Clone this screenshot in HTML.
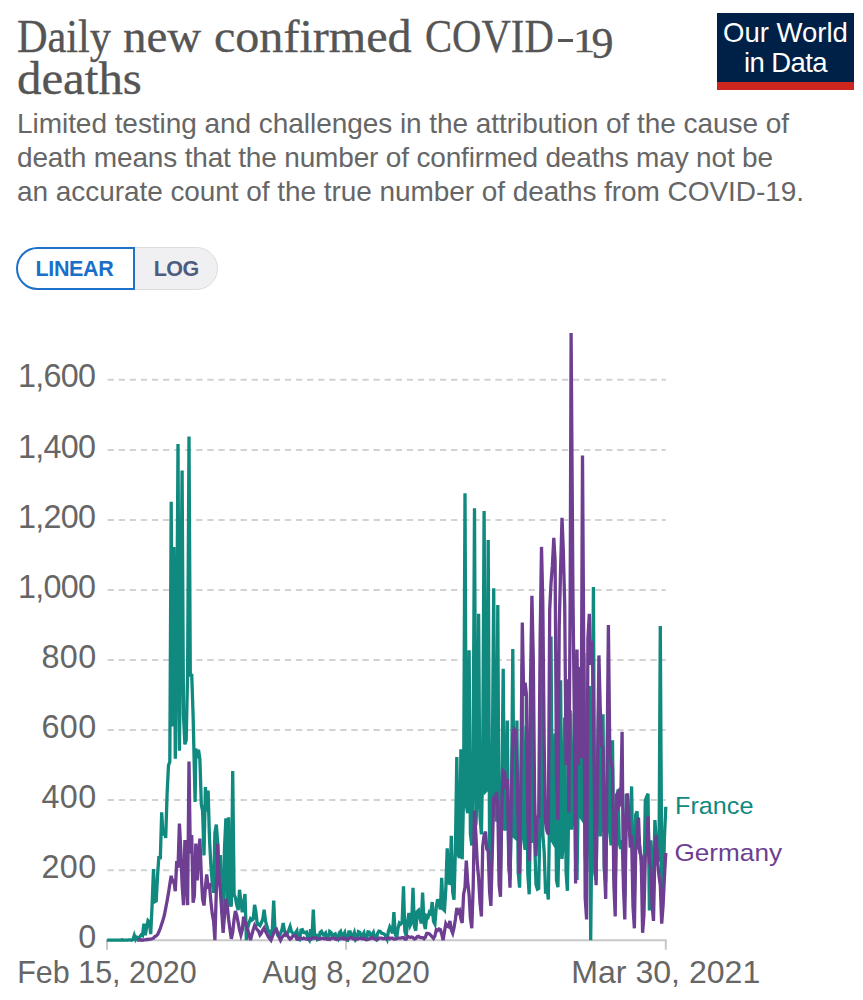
<!DOCTYPE html>
<html><head><meta charset="utf-8">
<style>
html,body{margin:0;padding:0;background:#fff;}
body{width:863px;height:1000px;position:relative;overflow:hidden;font-family:"Liberation Sans",sans-serif;}
.abs{position:absolute;white-space:nowrap;}
.title{font-family:"Liberation Serif",serif;font-size:48px;color:#555;line-height:42px;transform-origin:0 0;-webkit-text-stroke:0.35px #555;}
.sub{font-size:28px;color:#666;line-height:33.6px;}
.logo{left:717.2px;top:12.8px;width:136.5px;height:69px;background:#002147;border-bottom:8.5px solid #ce261e;color:#fff;text-align:center;}
.btn{font-weight:bold;font-size:21.5px;letter-spacing:-0.35px;box-sizing:border-box;}
svg text{font-family:"Liberation Sans",sans-serif;}
</style></head><body>
<div class="abs title" style="left:16.5px;top:15.55px;transform:scale(0.8817,0.96);">Daily</div><div class="abs title" style="left:123.2px;top:15.55px;transform:scale(0.9775,0.96);">new</div><div class="abs title" style="left:213.8px;top:15.55px;transform:scale(1.0015,0.96);">confirmed</div><div class="abs title" style="left:425.0px;top:15.55px;transform:scale(0.847,0.96);">COVID</div><div class="abs title" style="left:16.5px;top:58.05px;transform:scale(1.018,0.96);">deaths</div><div class="abs" style="left:557.9px;top:38.6px;width:15.3px;height:3.2px;background:#555;"></div><div class="abs title" style="font-size:33px;left:573.4px;top:19.6px;transform:scale(1.34,1);">1</div><div class="abs title" style="font-size:44px;left:591.6px;top:22.65px;transform:scale(1.0,1);">9</div>
<div class="abs sub" id="s1" style="left:17px;top:107.3px;letter-spacing:-0.05px;">Limited testing and challenges in the attribution of the cause of</div>
<div class="abs sub" id="s2" style="left:17px;top:140.9px;letter-spacing:-0.17px;">death means that the number of confirmed deaths may not be</div>
<div class="abs sub" id="s3" style="left:17px;top:174.5px;letter-spacing:-0.06px;">an accurate count of the true number of deaths from COVID-19.</div>
<div class="abs logo"><div id="l1" class="abs" style="left:0;width:136.5px;top:6.5px;font-size:27.5px;line-height:28px;">Our World</div><div id="l2" class="abs" style="left:0;width:136.5px;top:36.2px;font-size:27.5px;line-height:28px;letter-spacing:-0.6px;">in Data</div></div>
<div class="abs btn" id="b2" style="left:133px;top:246.7px;width:85px;height:43.3px;line-height:40.3px;background:#f0f0f2;border:1.5px solid #dcdcde;border-radius:0 22px 22px 0;color:#4e5d7e;padding-left:19.8px;letter-spacing:-0.6px;"><span style="position:relative;top:1.5px;">LOG</span></div>
<div class="abs btn" id="b1" style="left:16px;top:246.7px;width:118.7px;height:43.3px;line-height:39.3px;background:#fff;border:2px solid #1d71c9;border-radius:22px 0 0 22px;color:#1a6fc9;padding-left:17.5px;"><span style="position:relative;top:1.5px;">LINEAR</span></div>
<svg class="abs" id="chart" style="left:0;top:0;" width="863" height="1000" viewBox="0 0 863 1000">
<line x1="107.6" x2="665.8" y1="870.2" y2="870.2" stroke="#d2d2d2" stroke-width="2" stroke-dasharray="6.3,4.78"/><line x1="107.6" x2="665.8" y1="800.1" y2="800.1" stroke="#d2d2d2" stroke-width="2" stroke-dasharray="6.3,4.78"/><line x1="107.6" x2="665.8" y1="730.1" y2="730.1" stroke="#d2d2d2" stroke-width="2" stroke-dasharray="6.3,4.78"/><line x1="107.6" x2="665.8" y1="660.0" y2="660.0" stroke="#d2d2d2" stroke-width="2" stroke-dasharray="6.3,4.78"/><line x1="107.6" x2="665.8" y1="590.0" y2="590.0" stroke="#d2d2d2" stroke-width="2" stroke-dasharray="6.3,4.78"/><line x1="107.6" x2="665.8" y1="519.9" y2="519.9" stroke="#d2d2d2" stroke-width="2" stroke-dasharray="6.3,4.78"/><line x1="107.6" x2="665.8" y1="449.9" y2="449.9" stroke="#d2d2d2" stroke-width="2" stroke-dasharray="6.3,4.78"/><line x1="107.6" x2="665.8" y1="379.8" y2="379.8" stroke="#d2d2d2" stroke-width="2" stroke-dasharray="6.3,4.78"/>
<line x1="106" x2="666.8" y1="940.2" y2="940.2" stroke="#c8c8c8" stroke-width="2"/>
<line x1="107.0" x2="107.0" y1="940.2" y2="949.7" stroke="#c8c8c8" stroke-width="2"/><text x="107.0" y="983.3" text-anchor="middle" font-size="31.5" fill="#666" textLength="179.5" lengthAdjust="spacingAndGlyphs">Feb 15, 2020</text><line x1="346.1" x2="346.1" y1="940.2" y2="949.7" stroke="#c8c8c8" stroke-width="2"/><text x="346.1" y="983.3" text-anchor="middle" font-size="31.5" fill="#666" textLength="167.5" lengthAdjust="spacingAndGlyphs">Aug 8, 2020</text><line x1="665.8" x2="665.8" y1="940.2" y2="949.7" stroke="#c8c8c8" stroke-width="2"/><text x="665.8" y="983.3" text-anchor="middle" font-size="31.5" fill="#666" textLength="189" lengthAdjust="spacingAndGlyphs">Mar 30, 2021</text>
<text x="96.7" y="947.8" text-anchor="end" font-size="32.3" letter-spacing="0.45" fill="#666">0</text><text x="96.7" y="877.8" text-anchor="end" font-size="32.3" letter-spacing="0.45" fill="#666">200</text><text x="96.7" y="807.7" text-anchor="end" font-size="32.3" letter-spacing="0.45" fill="#666">400</text><text x="96.7" y="737.7" text-anchor="end" font-size="32.3" letter-spacing="0.45" fill="#666">600</text><text x="96.7" y="667.6" text-anchor="end" font-size="32.3" letter-spacing="0.45" fill="#666">800</text><text x="95.4" y="597.6" text-anchor="end" font-size="32.3" letter-spacing="-0.7" fill="#666">1,000</text><text x="95.4" y="527.5" text-anchor="end" font-size="32.3" letter-spacing="-0.7" fill="#666">1,200</text><text x="95.4" y="457.5" text-anchor="end" font-size="32.3" letter-spacing="-0.7" fill="#666">1,400</text><text x="95.4" y="387.4" text-anchor="end" font-size="32.3" letter-spacing="-0.7" fill="#666">1,600</text>
<g fill="none" stroke-width="3.3">
<path id="frp" stroke="#10897f" d="M107.0,939.8 L108.4,940.2 L109.7,940.2 L111.1,940.2 L112.5,940.2 L113.8,940.2 L115.2,940.2 L116.6,940.2 L117.9,940.2 L119.3,940.2 L120.7,940.2 L122.0,939.8 L123.4,940.2 L124.8,940.2 L126.1,940.2 L127.5,940.2 L128.9,939.8 L130.2,939.8 L131.6,940.2 L133.0,939.5 L134.3,935.3 L135.7,939.5 L137.1,937.4 L138.4,938.4 L139.8,936.7 L141.2,934.9 L142.5,935.6 L143.9,923.7 L145.3,935.3 L146.6,927.6 L148.0,920.6 L149.4,922.0 L150.7,934.2 L152.1,905.2 L153.5,869.1 L154.8,901.7 L156.2,901.0 L157.6,875.1 L158.9,856.1 L160.3,859.3 L161.7,812.4 L163.0,835.5 L164.4,828.5 L165.7,837.9 L167.1,793.8 L168.5,765.4 L169.8,761.9 L171.2,501.7 L172.6,726.5 L173.9,546.9 L175.3,758.8 L176.7,648.4 L178.0,443.9 L179.4,750.7 L180.8,625.0 L182.1,470.5 L183.5,716.0 L184.9,744.4 L186.2,739.9 L187.6,673.3 L189.0,436.5 L190.3,676.5 L191.7,673.7 L193.1,715.3 L195.1,801.9 L195.8,748.6 L197.2,754.2 L198.5,749.7 L199.9,759.5 L201.3,804.0 L202.6,811.0 L204.0,855.4 L205.4,787.1 L206.7,811.7 L208.1,790.6 L209.5,839.0 L210.8,863.8 L212.2,882.1 L213.6,892.9 L214.9,833.0 L216.3,824.6 L217.7,842.8 L219.0,877.9 L220.4,855.1 L221.8,912.2 L223.1,915.7 L224.5,848.1 L225.9,818.3 L227.2,911.1 L228.6,817.3 L230.0,903.8 L231.3,906.6 L232.7,771.0 L234.1,894.3 L235.4,897.8 L236.8,905.2 L238.2,910.1 L239.5,889.8 L240.9,901.7 L242.3,912.2 L243.6,903.4 L245.0,894.0 L246.4,940.2 L247.7,927.9 L249.1,922.7 L250.5,918.8 L251.8,920.2 L253.2,919.2 L254.6,904.8 L255.9,911.8 L257.3,924.8 L258.7,924.1 L260.0,925.5 L261.4,922.7 L262.8,919.2 L264.1,909.7 L265.5,920.9 L266.9,926.2 L268.2,931.1 L269.6,931.1 L271.0,939.1 L272.3,930.0 L273.7,900.6 L275.0,930.4 L276.4,930.4 L277.8,935.3 L279.1,936.0 L280.5,933.2 L281.9,929.7 L283.2,923.0 L284.6,931.4 L286.0,934.9 L287.3,933.9 L288.7,930.4 L290.1,926.5 L291.4,931.4 L292.8,933.2 L294.2,933.9 L295.5,932.8 L296.9,930.7 L298.3,939.5 L299.6,939.8 L301.0,930.0 L302.4,929.7 L303.7,932.5 L305.1,932.8 L306.5,932.1 L307.8,938.4 L309.2,940.2 L310.6,929.3 L311.9,940.2 L313.3,909.7 L314.7,939.1 L316.0,933.9 L317.4,939.5 L318.8,938.8 L320.1,932.5 L321.5,931.4 L322.9,934.2 L324.2,934.9 L325.6,933.2 L327.0,938.8 L328.3,938.8 L329.7,931.4 L331.1,932.5 L332.4,936.0 L333.8,934.6 L335.2,933.9 L336.5,937.7 L337.9,939.1 L339.3,932.8 L340.6,931.4 L342.0,936.7 L343.4,934.9 L344.7,932.5 L346.1,939.8 L347.5,940.2 L348.8,931.8 L350.2,931.8 L351.6,936.7 L352.9,936.0 L354.3,932.5 L355.7,939.8 L357.0,938.4 L358.4,931.8 L359.8,932.5 L361.1,935.6 L362.5,935.3 L363.9,932.8 L365.2,938.8 L366.6,938.8 L368.0,931.8 L369.3,932.1 L370.7,935.6 L372.1,934.9 L373.4,932.5 L374.8,938.4 L376.2,939.5 L377.5,933.5 L378.9,931.1 L380.3,931.4 L381.6,933.2 L383.0,933.5 L384.4,934.2 L385.7,936.0 L387.1,939.1 L388.4,931.4 L389.8,926.9 L391.2,929.7 L392.5,933.5 L393.9,912.2 L395.3,934.2 L396.6,938.1 L398.0,928.3 L399.4,923.0 L400.7,924.1 L402.1,922.7 L403.5,886.3 L404.8,931.1 L406.2,936.3 L407.6,921.6 L408.9,912.9 L410.3,925.1 L411.7,922.0 L413.0,887.7 L414.4,926.5 L415.8,930.7 L417.1,911.8 L418.5,910.4 L419.9,918.1 L421.2,923.4 L422.6,892.6 L424.0,923.0 L425.3,929.0 L426.7,916.0 L428.1,917.1 L429.4,912.2 L430.8,913.6 L432.2,902.0 L433.5,921.3 L434.9,924.1 L436.3,906.9 L437.6,899.2 L439.0,903.8 L440.4,909.4 L441.7,877.9 L443.1,909.0 L444.5,910.4 L445.8,889.1 L447.2,848.4 L448.6,883.1 L449.9,883.5 L451.3,835.8 L452.7,892.2 L454.0,899.6 L455.4,850.2 L456.8,757.0 L458.1,854.7 L459.5,857.9 L460.9,749.3 L462.2,859.3 L463.6,794.5 L465.0,493.3 L466.3,805.4 L467.7,813.1 L469.1,650.2 L470.4,833.7 L471.8,845.6 L473.2,747.2 L474.5,508.3 L475.9,825.3 L477.3,791.3 L478.6,613.8 L480.0,816.2 L481.4,834.4 L482.7,763.0 L484.1,511.1 L485.5,791.3 L486.8,789.9 L488.2,539.9 L489.6,851.6 L490.9,865.2 L492.3,765.1 L493.7,588.2 L495.0,806.8 L496.4,821.5 L497.8,605.0 L499.1,865.6 L500.5,870.9 L501.8,798.0 L503.2,668.8 L504.6,830.6 L505.9,826.7 L507.3,720.6 L508.7,865.2 L510.0,879.3 L511.4,812.0 L512.8,649.1 L514.1,836.5 L515.5,837.9 L516.9,720.6 L518.2,872.3 L519.6,887.7 L521.0,810.3 L522.3,663.5 L523.7,839.0 L525.1,849.8 L526.4,725.8 L527.8,873.7 L529.2,894.3 L530.5,816.2 L531.9,659.3 L533.3,842.8 L534.6,838.3 L536.0,884.5 L537.4,889.1 L538.7,888.4 L540.1,813.1 L541.5,600.8 L542.8,833.7 L544.2,852.3 L545.6,893.6 L546.9,885.2 L548.3,899.6 L549.7,807.1 L551.0,636.5 L552.4,841.1 L553.8,843.5 L555.1,733.6 L556.5,880.3 L557.9,887.3 L559.2,831.6 L560.6,680.3 L562.0,858.9 L563.3,841.4 L564.7,717.4 L566.1,872.6 L567.4,890.8 L568.8,799.0 L570.2,710.4 L571.5,829.5 L572.9,819.0 L574.3,712.9 L575.6,859.6 L577.0,880.0 L578.4,784.3 L579.7,725.8 L581.1,817.6 L582.5,819.7 L583.8,653.0 L585.2,855.4 L586.6,871.9 L587.9,780.8 L589.3,685.9 L590.7,940.2 L592.0,814.1 L593.4,587.1 L594.8,873.3 L596.1,880.3 L597.5,779.8 L598.9,686.6 L600.2,836.5 L601.6,814.1 L603.0,714.3 L604.3,870.5 L605.7,881.7 L607.1,795.9 L608.4,735.0 L609.8,831.6 L611.1,845.3 L612.5,740.2 L613.9,876.1 L615.2,884.2 L616.6,823.2 L618.0,789.2 L619.3,843.2 L620.7,848.8 L622.1,840.0 L623.4,875.1 L624.8,897.5 L626.2,793.8 L627.5,808.9 L628.9,827.4 L630.3,837.6 L631.6,786.4 L633.0,880.7 L634.4,894.7 L635.7,814.5 L637.1,811.3 L638.5,847.7 L639.8,847.4 L641.2,860.3 L642.6,879.3 L643.9,891.2 L645.3,800.5 L646.7,796.6 L648.0,793.8 L649.4,910.4 L650.8,840.4 L652.1,875.4 L653.5,891.9 L654.9,820.1 L656.2,839.7 L657.6,853.3 L659.0,861.4 L660.3,626.0 L661.7,873.7 L663.1,894.3 L664.4,838.6 L665.8,806.8"/>
<path id="dep" stroke="#6d3e91" d="M137.1,940.2 L138.4,940.2 L139.8,940.2 L141.2,939.8 L142.5,940.2 L143.9,939.8 L145.3,939.8 L146.6,939.5 L148.0,939.5 L149.4,939.1 L150.7,939.1 L152.1,938.8 L153.5,938.1 L154.8,936.7 L156.2,936.0 L157.6,934.6 L158.9,931.8 L160.3,928.3 L161.7,924.1 L163.0,919.9 L164.4,915.0 L165.7,908.3 L167.1,901.0 L168.5,892.9 L169.8,884.2 L171.2,875.8 L172.6,881.4 L173.9,881.0 L175.3,891.2 L176.7,861.0 L178.0,868.0 L179.4,823.6 L180.8,849.8 L182.1,884.2 L183.5,905.2 L184.9,840.0 L186.2,880.0 L187.6,905.2 L189.0,761.6 L190.3,853.3 L191.7,835.1 L193.1,902.7 L194.4,895.7 L195.8,843.5 L197.2,880.3 L198.5,854.0 L199.9,838.6 L201.3,875.4 L202.6,899.2 L204.0,905.5 L205.4,887.7 L206.7,874.4 L208.1,886.6 L209.5,885.6 L210.8,900.6 L212.2,913.6 L213.6,921.3 L214.9,940.2 L216.3,891.2 L217.7,843.9 L219.0,877.2 L220.4,891.2 L221.8,912.2 L223.1,932.8 L224.5,915.7 L225.9,898.9 L227.2,905.2 L228.6,919.2 L230.0,929.7 L231.3,938.8 L232.7,932.5 L234.1,919.2 L235.4,911.1 L236.8,915.7 L238.2,922.7 L239.5,929.7 L240.9,934.9 L242.3,929.7 L243.6,916.7 L245.0,920.9 L246.4,926.2 L247.7,929.7 L249.1,934.9 L250.5,940.2 L251.8,934.9 L253.2,929.7 L254.6,925.5 L255.9,927.9 L257.3,929.7 L258.7,931.4 L260.0,934.9 L261.4,933.2 L262.8,929.7 L264.1,927.9 L265.5,931.4 L266.9,933.9 L268.2,936.7 L269.6,938.4 L271.0,940.2 L272.3,936.7 L273.7,933.2 L275.0,930.4 L276.4,929.3 L277.8,933.2 L279.1,937.4 L280.5,940.2 L281.9,937.4 L283.2,936.0 L284.6,934.6 L286.0,933.2 L287.3,935.3 L288.7,937.4 L290.1,939.1 L291.4,938.1 L292.8,936.0 L294.2,935.6 L295.5,935.6 L296.9,939.1 L298.3,939.1 L299.6,938.1 L301.0,938.4 L302.4,938.8 L303.7,938.1 L305.1,938.8 L306.5,939.1 L307.8,939.1 L309.2,938.8 L310.6,939.5 L311.9,938.1 L313.3,937.7 L314.7,938.1 L316.0,938.1 L317.4,938.4 L318.8,939.1 L320.1,938.8 L321.5,938.4 L322.9,938.1 L324.2,938.8 L325.6,938.4 L327.0,939.1 L328.3,939.1 L329.7,939.5 L331.1,938.4 L332.4,938.1 L333.8,938.1 L335.2,939.1 L336.5,939.5 L337.9,938.8 L339.3,938.8 L340.6,938.8 L342.0,938.1 L343.4,938.8 L344.7,938.1 L346.1,939.1 L347.5,939.8 L348.8,938.8 L350.2,937.7 L351.6,937.7 L352.9,938.8 L354.3,939.1 L355.7,939.5 L357.0,938.8 L358.4,938.8 L359.8,938.1 L361.1,938.4 L362.5,938.8 L363.9,938.4 L365.2,939.5 L366.6,939.8 L368.0,939.5 L369.3,938.8 L370.7,938.4 L372.1,937.7 L373.4,938.4 L374.8,938.8 L376.2,939.5 L377.5,939.5 L378.9,938.1 L380.3,938.1 L381.6,938.1 L383.0,938.8 L384.4,938.4 L385.7,938.8 L387.1,938.8 L388.4,937.7 L389.8,938.8 L391.2,938.1 L392.5,938.1 L393.9,939.1 L395.3,939.1 L396.6,938.8 L398.0,938.1 L399.4,938.1 L400.7,938.1 L402.1,937.7 L403.5,937.7 L404.8,939.1 L406.2,939.1 L407.6,936.3 L408.9,937.0 L410.3,937.4 L411.7,937.0 L413.0,937.7 L414.4,939.1 L415.8,938.4 L417.1,936.7 L418.5,936.3 L419.9,937.4 L421.2,937.7 L422.6,937.7 L424.0,938.8 L425.3,937.4 L426.7,933.5 L428.1,933.5 L429.4,933.9 L430.8,935.3 L432.2,937.0 L433.5,938.4 L434.9,936.0 L436.3,929.7 L437.6,930.4 L439.0,929.0 L440.4,929.7 L441.7,933.9 L443.1,940.2 L444.5,931.4 L445.8,923.7 L447.2,926.2 L448.6,926.9 L449.9,920.9 L451.3,929.7 L452.7,933.2 L454.0,927.9 L455.4,919.2 L456.8,908.0 L458.1,912.2 L459.5,910.4 L460.9,919.2 L462.2,923.0 L463.6,894.3 L465.0,887.3 L466.3,860.7 L467.7,882.1 L469.1,894.7 L470.4,918.1 L471.8,928.3 L473.2,886.3 L474.5,810.6 L475.9,835.1 L477.3,863.5 L478.6,877.9 L480.0,902.7 L481.4,916.4 L482.7,846.7 L484.1,835.1 L485.5,831.6 L486.8,849.1 L488.2,851.2 L489.6,891.9 L490.9,905.9 L492.3,853.0 L493.7,796.6 L495.0,804.0 L496.4,792.0 L497.8,807.5 L499.1,884.9 L500.5,896.8 L501.8,804.3 L503.2,771.0 L504.6,772.4 L505.9,788.9 L507.3,779.1 L508.7,850.9 L510.0,887.7 L511.4,792.0 L512.8,733.6 L514.1,729.0 L515.5,730.8 L516.9,766.5 L518.2,827.8 L519.6,873.7 L521.0,765.1 L522.3,622.5 L523.7,695.7 L525.1,682.8 L526.4,694.3 L527.8,818.0 L529.2,861.0 L530.5,684.2 L531.9,595.9 L533.3,659.3 L534.6,795.9 L536.0,856.1 L537.4,815.5 L538.7,818.3 L540.1,641.8 L541.5,546.9 L542.8,602.6 L544.2,746.5 L545.6,822.5 L546.9,830.9 L548.3,834.4 L549.7,609.6 L551.0,583.3 L552.4,565.4 L553.8,537.8 L555.1,560.9 L556.5,777.3 L557.9,820.1 L559.2,628.1 L560.6,568.9 L562.0,517.8 L563.3,550.4 L564.7,604.0 L566.1,765.1 L567.4,679.3 L568.8,812.4 L570.2,590.0 L571.1,332.9 L572.9,590.0 L574.3,712.5 L575.6,883.5 L577.0,649.5 L578.4,765.1 L579.7,667.0 L581.1,758.1 L582.5,455.5 L583.8,660.0 L585.2,898.2 L586.6,919.5 L587.9,638.6 L589.3,613.8 L590.7,664.9 L592.0,640.7 L593.4,698.9 L594.8,834.8 L596.1,885.2 L597.5,771.7 L598.9,655.4 L600.2,706.9 L601.6,745.5 L603.0,747.6 L604.3,863.8 L605.7,898.9 L607.1,755.3 L608.4,625.0 L609.8,753.2 L611.1,762.3 L612.5,768.6 L613.9,885.2 L615.2,916.4 L616.6,794.8 L618.0,792.4 L619.3,805.4 L620.7,802.2 L622.1,731.8 L623.4,885.2 L624.8,919.5 L626.2,814.8 L627.5,793.4 L628.9,814.5 L630.3,847.7 L631.6,835.1 L633.0,906.6 L634.4,928.3 L635.7,850.9 L637.1,835.1 L638.5,817.6 L639.8,851.9 L641.2,856.5 L642.6,932.8 L643.9,915.7 L645.3,856.8 L646.7,853.0 L648.0,816.2 L649.4,861.0 L650.8,867.7 L652.1,905.5 L653.5,920.9 L654.9,852.6 L656.2,835.1 L657.6,860.3 L659.0,876.1 L660.3,885.2 L661.7,923.7 L663.1,905.2 L664.4,877.2 L665.8,853.0"/>
</g>
<text x="675" y="814.3" font-size="24.6" fill="#10897f" textLength="78.5" lengthAdjust="spacingAndGlyphs">France</text>
<text x="674.5" y="860.8" font-size="24.6" fill="#6d3e91" textLength="107.5" lengthAdjust="spacingAndGlyphs">Germany</text>
</svg>
</body></html>
